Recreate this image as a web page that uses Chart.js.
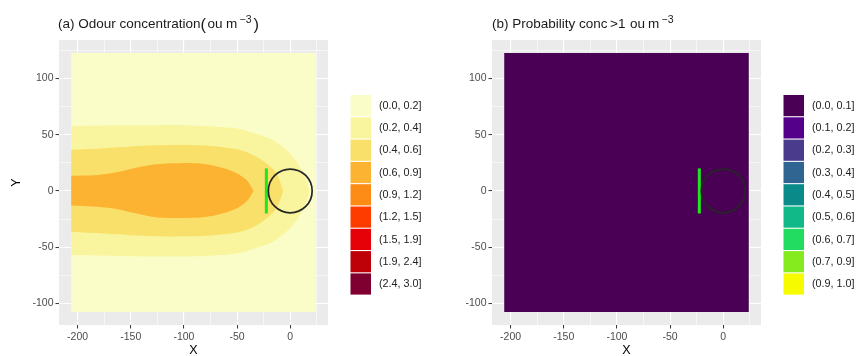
<!DOCTYPE html>
<html>
<head>
<meta charset="utf-8">
<script src="https://cdn.jsdelivr.net/npm/chart.js@4.4.1/dist/chart.umd.min.js"></script>
<style>
  html, body { margin: 0; padding: 0; background: #fff; }
  #wrap { position: relative; width: 857px; height: 356px; overflow: hidden; }
  canvas { position: absolute; top: 0; }
  #ca { left: 0; }
  #cb { left: 430px; }
</style>
</head>
<body>
<div id="wrap">
  <canvas id="ca" width="430" height="356"></canvas>
  <canvas id="cb" width="427" height="356"></canvas>
</div>
<script>
const FONT = "'Liberation Sans', Arial, Helvetica, sans-serif";

// ejes
const X_TICKS = [-200, -150, -100, -50, 0];
const Y_TICKS = [-100, -50, 0, 50, 100];
const X_GRID = [-200, -175, -150, -125, -100, -75, -50, -25, 0, 25];
const Y_GRID = [-100, -75, -50, -25, 0, 25, 50, 75, 100, 125];
const X_LIMITS = [-217.5, 35.5];
const Y_LIMITS = [-119, 134];

// extent of the gridded domain
const DOMAIN_X = [-206, 24];
const DOMAIN_Y = [-107.5, 122.5];

// odour contours: band edges (upper / lower) along x
const BAND_02_X  = [-206, -175, -150, -125, -100, -75, -50, -38, -25, -16, -8, 0, 9, 15, 18];
const BAND_02_UP = [57.5, 58, 58.3, 58.4, 58.4, 57.5, 55.5, 52.5, 48.5, 45, 39.5, 33, 21.5, 10, 0];
const BAND_02_LO = [-56.8, -57.5, -58, -58.2, -58.2, -57.5, -55.5, -52.5, -48.5, -45, -39.5, -33, -21.5, -10, 0];

const BAND_04_X  = [-206, -175, -150, -125, -100, -75, -50, -38, -30, -22.5, -13, -6.5];
const BAND_04_UP = [36.5, 38, 39.5, 40.5, 40.7, 39.8, 37, 33.3, 29.5, 24.5, 15.6, 0];
const BAND_04_LO = [-36.2, -37.8, -39.3, -40.2, -40.3, -39.5, -36.8, -33.3, -29.5, -24.5, -15.6, 0];

const BAND_06_X  = [-206, -185, -170, -160, -150, -138, -125, -100, -85, -70, -60, -50, -45, -40, -34.5];
const BAND_06_UP = [13.6, 14, 15.5, 17.2, 19.5, 22, 23.8, 24.8, 24.3, 22, 19.5, 15.5, 12.5, 8.5, 0];
const BAND_06_LO = [-13, -13.9, -15.2, -16.8, -19, -21.3, -23.5, -24, -23.6, -21.5, -19, -15.3, -12.3, -8.3, 0];

// source and barrier
const CIRCLE = { x: 0, y: 0, r: 20 };
const BARRIER_X = [-22.5, -22.5];
const BARRIER_Y = [-20, 20];

// legends
const ODOUR_BINS = ['(0.0, 0.2]', '(0.2, 0.4]', '(0.4, 0.6]', '(0.6, 0.9]', '(0.9, 1.2]', '(1.2, 1.5]', '(1.5, 1.9]', '(1.9, 2.4]', '(2.4, 3.0]'];
const ODOUR_COLORS = ['#FBFDC9', '#F9F59E', '#F9E06A', '#FDB332', '#FD8C17', '#FF3C00', '#E60008', '#BE0008', '#7F0030'];
const PROB_BINS = ['(0.0, 0.1]', '(0.1, 0.2]', '(0.2, 0.3]', '(0.3, 0.4]', '(0.4, 0.5]', '(0.5, 0.6]', '(0.6, 0.7]', '(0.7, 0.9]', '(0.9, 1.0]'];
const PROB_COLORS = ['#4A0055', '#55008B', '#4B3B8D', '#2F6590', '#0B8A8A', '#10B987', '#22DC62', '#85EA1E', '#F6FB00'];

function polygon(xs, up, lo) {
  const pts = xs.map((x, i) => ({ x, y: up[i] }));
  for (let i = xs.length - 1; i >= 0; i--) pts.push({ x: xs[i], y: lo[i] });
  return pts;
}

function domainRect() {
  return [
    { x: DOMAIN_X[0], y: DOMAIN_Y[0] }, { x: DOMAIN_X[0], y: DOMAIN_Y[1] },
    { x: DOMAIN_X[1], y: DOMAIN_Y[1] }, { x: DOMAIN_X[1], y: DOMAIN_Y[0] },
  ];
}

function area(data, color, order, tension) {
  return {
    data, order, showLine: true, fill: 'shape', tension,
    backgroundColor: color, borderColor: 'rgba(0,0,0,0)', borderWidth: 0, pointRadius: 0,
  };
}

function overlays() {
  return [
    {
      data: BARRIER_X.map((x, i) => ({ x, y: BARRIER_Y[i] })), order: 1, showLine: true, fill: false,
      borderColor: '#1FE61F', borderWidth: 3, pointRadius: 0, borderCapStyle: 'butt',
    },
    {
      data: [{ x: CIRCLE.x, y: CIRCLE.y }], order: 0, showLine: false,
      pointRadius: (c) => {
        const sx = c.chart.scales.x, sy = c.chart.scales.y;
        const rx = Math.abs(sx.getPixelForValue(CIRCLE.r) - sx.getPixelForValue(0));
        const ry = Math.abs(sy.getPixelForValue(CIRCLE.r) - sy.getPixelForValue(0));
        return (rx + ry) / 2;
      },
      pointBackgroundColor: 'rgba(0,0,0,0)', pointBorderColor: '#262626', pointBorderWidth: 1.7,
    },
  ];
}

const isMajor = (c, list) => c.tick && list.includes(c.tick.value);

function axis(grid, ticks, limits, width, title, titleOpts) {
  return {
    type: 'linear', min: limits[0], max: limits[1],
    afterBuildTicks: (s) => { s.ticks = grid.map((value) => ({ value })); },
    afterFit: (s) => { if (s.isHorizontal()) s.height = width; else s.width = width; },
    border: { display: false },
    grid: {
      color: '#FFFFFF',
      lineWidth: (c) => (isMajor(c, ticks) ? 1.1 : 0.55),
      tickColor: (c) => (isMajor(c, ticks) ? '#333333' : 'rgba(0,0,0,0)'),
      tickLength: 3.5, tickWidth: 1,
    },
    ticks: {
      autoSkip: false, maxRotation: 0, minRotation: 0, padding: 2,
      color: '#4D4D4D', font: { family: FONT, size: 10.5 },
      callback: (v) => (ticks.includes(v) ? String(v) : ''),
    },
    title: Object.assign({ display: !!title, text: title, color: '#000', font: { family: FONT, size: 12.5 } }, titleOpts),
  };
}

const decorations = {
  id: 'decorations',
  beforeDraw(chart) {
    const { ctx, chartArea: a } = chart;
    ctx.save();
    ctx.fillStyle = '#EBEBEB';
    ctx.fillRect(a.left, a.top, a.right - a.left, a.bottom - a.top);
    ctx.restore();
  },
  afterDraw(chart, args, o) {
    const { ctx, chartArea: a } = chart;
    ctx.save();
    // título por piezas (paréntesis grandes, superíndice)
    ctx.textBaseline = 'alphabetic';
    ctx.fillStyle = '#1A1A1A';
    o.title.forEach((p) => {
      ctx.font = `${p.size}px ${FONT}`;
      ctx.fillText(p.text, p.x, 28 + (p.dy || 0));
    });
    // leyenda
    const lx = a.right + 22.5;
    ctx.textBaseline = 'middle';
    ctx.font = `10.8px ${FONT}`;
    o.bins.forEach((b, i) => {
      const y = 95 + i * 22.3;
      ctx.fillStyle = o.colors[i];
      ctx.fillRect(lx, y, 20.5, 21.2);
      ctx.fillStyle = '#222222';
      ctx.fillText(b, lx + 28.5, y + 10.8);
    });
    ctx.restore();
  },
};

function makePanel(id, datasets, opts) {
  return new Chart(document.getElementById(id), {
    type: 'scatter',
    data: { datasets },
    options: {
      responsive: false,
      animation: false,
      events: [],
      layout: { padding: { top: 40, right: opts.padRight, bottom: 0, left: 0 } },
      scales: {
        x: axis(X_GRID, X_TICKS, X_LIMITS, 31, 'X', { font: { family: FONT, size: 12.5, lineHeight: 0.8 }, padding: 0 }),
        y: axis(Y_GRID, Y_TICKS, Y_LIMITS, opts.yWidth, opts.yTitle, { padding: { top: 9.5, bottom: 0 } }),
      },
      plugins: {
        legend: { display: false },
        tooltip: { enabled: false },
        decorations: { title: opts.title, bins: opts.bins, colors: opts.colors },
      },
    },
    plugins: [decorations],
  });
}

makePanel('ca', [
  area(domainRect(), ODOUR_COLORS[0], 5, 0),
  area(polygon(BAND_02_X, BAND_02_UP, BAND_02_LO), ODOUR_COLORS[1], 4, 0.3),
  area(polygon(BAND_04_X, BAND_04_UP, BAND_04_LO), ODOUR_COLORS[2], 3, 0.3),
  area(polygon(BAND_06_X, BAND_06_UP, BAND_06_LO), ODOUR_COLORS[3], 2, 0.3),
  ...overlays(),
], {
  padRight: 102, yWidth: 59, yTitle: 'Y',
  bins: ODOUR_BINS, colors: ODOUR_COLORS,
  title: [
    { text: '(a) Odour concentration', x: 58, size: 13.5 },
    { text: '(', x: 200.5, size: 16.5, dy: 1.5 },
    { text: 'ou', x: 207.5, size: 13.5 },
    { text: 'm', x: 226, size: 13.5 },
    { text: '\u22123', x: 239.5, size: 10.5, dy: -5.5 },
    { text: ')', x: 253.5, size: 16.5, dy: 1.5 },
  ],
});

makePanel('cb', [
  area(domainRect(), PROB_COLORS[0], 5, 0),
  ...overlays(),
], {
  padRight: 96, yWidth: 62, yTitle: '',
  bins: PROB_BINS, colors: PROB_COLORS,
  title: [
    { text: '(b) Probability conc', x: 62, size: 13.5 },
    { text: '>1', x: 180, size: 13.5 },
    { text: 'ou', x: 200, size: 13.5 },
    { text: 'm', x: 218, size: 13.5 },
    { text: '\u22123', x: 231.5, size: 10.5, dy: -5.5 },
  ],
});
</script>
</body>
</html>
